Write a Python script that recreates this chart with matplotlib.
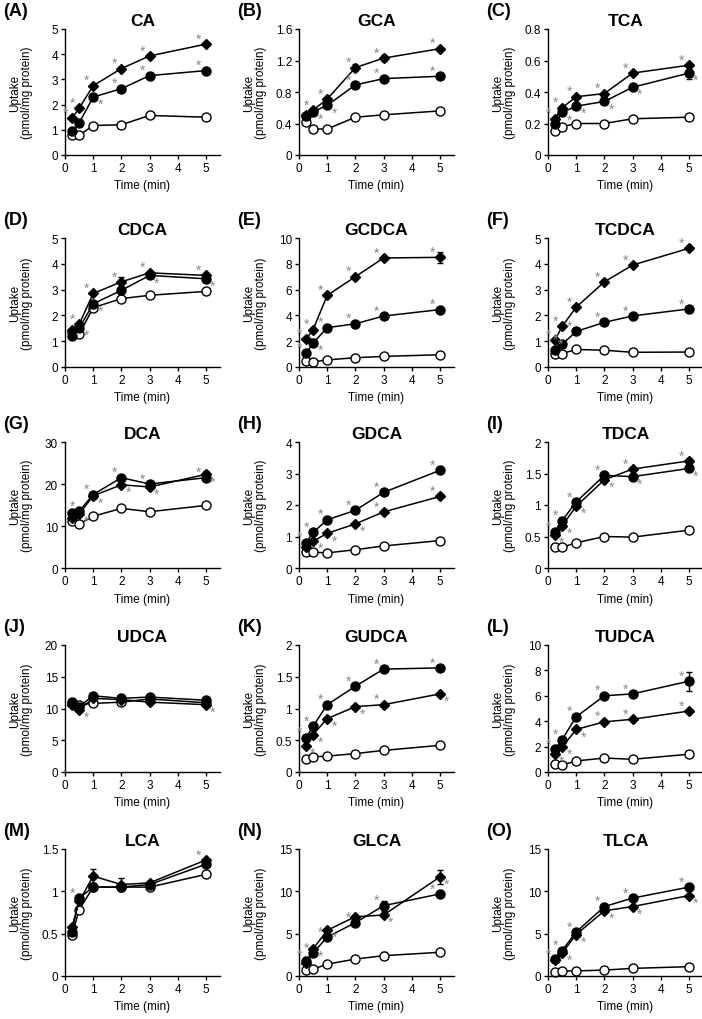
import numpy as np
import matplotlib
matplotlib.use('Agg')
import matplotlib.pyplot as plt
from matplotlib.ticker import FuncFormatter

plt.rcParams['font.family'] = ['Liberation Sans', 'DejaVu Sans']

# time points (min)
time = [0.25, 0.5, 1, 2, 3, 5]

letters = list('ABCDEFGHIJKLMNO')
names = ['CA', 'GCA', 'TCA', 'CDCA', 'GCDCA', 'TCDCA', 'DCA', 'GDCA', 'TDCA',
         'UDCA', 'GUDCA', 'TUDCA', 'LCA', 'GLCA', 'TLCA']
ymax = [5, 1.6, 0.8, 5, 10, 5, 30, 4, 2, 20, 2, 10, 1.5, 15, 15]
ystep = [1, 0.4, 0.2, 1, 2, 1, 10, 1, 0.5, 5, 0.5, 2, 0.5, 5, 5]

# filled circles
circle = [
    [0.97, 1.27, 2.30, 2.63, 3.15, 3.35],
    [0.50, 0.55, 0.63, 0.89, 0.97, 1.00],
    [0.20, 0.27, 0.31, 0.34, 0.43, 0.52],
    [1.20, 1.50, 2.45, 2.97, 3.55, 3.42],
    [1.05, 1.85, 3.05, 3.35, 3.95, 4.45],
    [0.65, 0.88, 1.38, 1.73, 1.98, 2.25],
    [13.0, 13.5, 17.5, 21.5, 20.0, 21.5],
    [0.80, 1.13, 1.53, 1.83, 2.40, 3.10],
    [0.57, 0.75, 1.05, 1.47, 1.45, 1.58],
    [11.0, 10.3, 12.0, 11.6, 11.8, 11.3],
    [0.54, 0.72, 1.06, 1.35, 1.62, 1.64],
    [1.80, 2.55, 4.35, 6.00, 6.15, 7.15],
    [0.52, 0.92, 1.05, 1.05, 1.08, 1.32],
    [1.8, 2.7, 4.6, 6.3, 8.3, 9.7],
    [2.0, 3.0, 5.2, 8.2, 9.2, 10.5],
]
# filled diamonds
diamond = [
    [1.47, 1.85, 2.75, 3.43, 3.93, 4.40],
    [0.51, 0.57, 0.71, 1.11, 1.23, 1.35],
    [0.23, 0.30, 0.37, 0.39, 0.52, 0.57],
    [1.45, 1.65, 2.85, 3.30, 3.65, 3.55],
    [2.15, 2.90, 5.55, 7.00, 8.45, 8.50],
    [1.05, 1.57, 2.32, 3.30, 3.95, 4.60],
    [11.8, 12.8, 17.2, 19.8, 19.3, 22.3],
    [0.68, 0.85, 1.10, 1.40, 1.78, 2.27],
    [0.52, 0.67, 0.98, 1.40, 1.57, 1.70],
    [10.6, 9.8, 11.6, 11.4, 11.0, 10.6],
    [0.41, 0.59, 0.84, 1.03, 1.06, 1.23],
    [1.40, 1.95, 3.35, 3.95, 4.15, 4.80],
    [0.58, 0.88, 1.18, 1.08, 1.10, 1.37],
    [1.5, 3.2, 5.4, 7.0, 7.2, 11.7],
    [1.9, 2.7, 4.9, 7.7, 8.2, 9.5],
]
# open circles (control)
opened = [
    [0.78, 0.78, 1.17, 1.20, 1.57, 1.50],
    [0.42, 0.33, 0.33, 0.48, 0.51, 0.56],
    [0.15, 0.18, 0.20, 0.20, 0.23, 0.24],
    [1.35, 1.27, 2.30, 2.65, 2.78, 2.93],
    [0.50, 0.40, 0.55, 0.72, 0.82, 0.95],
    [0.50, 0.52, 0.68, 0.65, 0.57, 0.58],
    [11.2, 10.5, 12.3, 14.2, 13.4, 14.9],
    [0.52, 0.50, 0.48, 0.58, 0.70, 0.87],
    [0.33, 0.33, 0.40, 0.50, 0.49, 0.60],
    [10.8, 10.6, 10.8, 11.0, 11.5, 10.9],
    [0.21, 0.24, 0.25, 0.29, 0.34, 0.42],
    [0.60, 0.55, 0.87, 1.10, 1.00, 1.40],
    [0.48, 0.78, 1.05, 1.05, 1.05, 1.20],
    [0.7, 0.8, 1.4, 2.0, 2.4, 2.8],
    [0.5, 0.6, 0.6, 0.7, 0.9, 1.1],
]

# visible error bars (SE), zero elsewhere
err_circle = {'C': [0, 0, 0, 0, 0, 0.04], 'L': [0, 0, 0, 0, 0, 0.75],
              'N': [0, 0, 0, 0, 0.6, 0], 'G': [0, 0, 0, 0, 0.6, 0]}
err_diamond = {'B': [0, 0, 0, 0.04, 0.04, 0], 'D': [0, 0, 0, 0.2, 0, 0],
               'E': [0, 0, 0, 0, 0, 0.45], 'G': [0, 0, 0, 0, 0, 0.8],
               'I': [0, 0, 0, 0, 0, 0.05], 'M': [0, 0, 0.08, 0.08, 0, 0],
               'N': [0, 0, 0, 0, 0, 0.8]}
err_open = {'N': [0, 0, 0, 0, 0.4, 0]}

# significance marks: u = above-left, r = above-right, d = below-right, - = none
sig_circle = ['--duuu', '-dduuu', '-ddddd', '-dd-dd', 'uduuuu', 'ruuuuu',
              '-uuuuu', 'uuuuuu', 'uuuudd', '------', 'uuuuuu', 'uuuuuu',
              '-u----', 'uuuuuu', 'uuuuuu']
sig_diamond = ['uuuuuu', '-uuuuu', 'uuuuuu', '-uuuuu', 'uuuuuu', 'uuuuuu',
               '-ddddd', '-ddduu', 'dddduu', '-d---d', 'ddddud', 'ddduuu',
               '-----u', '-dd-dd', '-ddddd']

W, H = 702, 1020
fig = plt.figure(figsize=(W / 100, H / 100), dpi=100)
col_left = [65, 299, 548]
row_top = [30, 239, 443, 646, 850]
row_zero = [156, 368, 569, 773, 977]
ax_w = 155

star_off = {'u': (-5, 4), 'r': (4, 5), 'd': (5, -5)}

for i in range(15):
    r, c = divmod(i, 3)
    L = letters[i]
    ax = fig.add_axes([col_left[c] / W, 1 - row_zero[r] / H, ax_w / W,
                       (row_zero[r] - row_top[r]) / H])

    series = [
        (opened[i], err_open.get(L), 'o', 'white', 6.5),
        (diamond[i], err_diamond.get(L), 'D', 'black', 5.0),
        (circle[i], err_circle.get(L), 'o', 'black', 6.5),
    ]
    for y, e, m, fc, ms in series:
        ax.errorbar(time, y, yerr=e, color='black', lw=1.1, marker=m,
                    mfc=fc, mec='black', mew=1.0, ms=ms, capsize=2,
                    elinewidth=1.0, clip_on=False)

    for y, sig in [(circle[i], sig_circle[i]), (diamond[i], sig_diamond[i])]:
        for j, code in enumerate(sig):
            if code in star_off:
                ax.annotate('*', (time[j], y[j]), xytext=star_off[code],
                            textcoords='offset points', ha='center', va='center',
                            color='#8a8a8a', fontsize=10, annotation_clip=False)

    ax.set_xlim(0, 5.5)
    ax.set_ylim(0, ymax[i])
    ax.set_xticks(range(6))
    ax.set_yticks(np.arange(0, ymax[i] + ystep[i] / 2, ystep[i]))
    ax.yaxis.set_major_formatter(FuncFormatter(lambda v, p: f'{v:g}'))
    ax.spines['top'].set_visible(False)
    ax.spines['right'].set_visible(False)
    for s in ['left', 'bottom']:
        ax.spines[s].set_linewidth(1.0)
    ax.tick_params(direction='out', length=3, width=1.0, labelsize=8.5, pad=2)
    ax.set_xlabel('Time (min)', fontsize=8.5, labelpad=4)
    ax.set_ylabel('Uptake\n(pmol/mg protein)', fontsize=8.5, linespacing=1.0)
    ax.yaxis.set_label_coords(-32 / ax_w, 0.5)
    ax.set_title(names[i], fontsize=12.5, fontweight='bold', pad=3)
    fig.text((col_left[c] - 62) / W, 1 - (row_top[r] - 14) / H, f'({L})',
             fontsize=13, fontweight='bold', ha='left', va='baseline')

fig.savefig('out.png', dpi=100)
